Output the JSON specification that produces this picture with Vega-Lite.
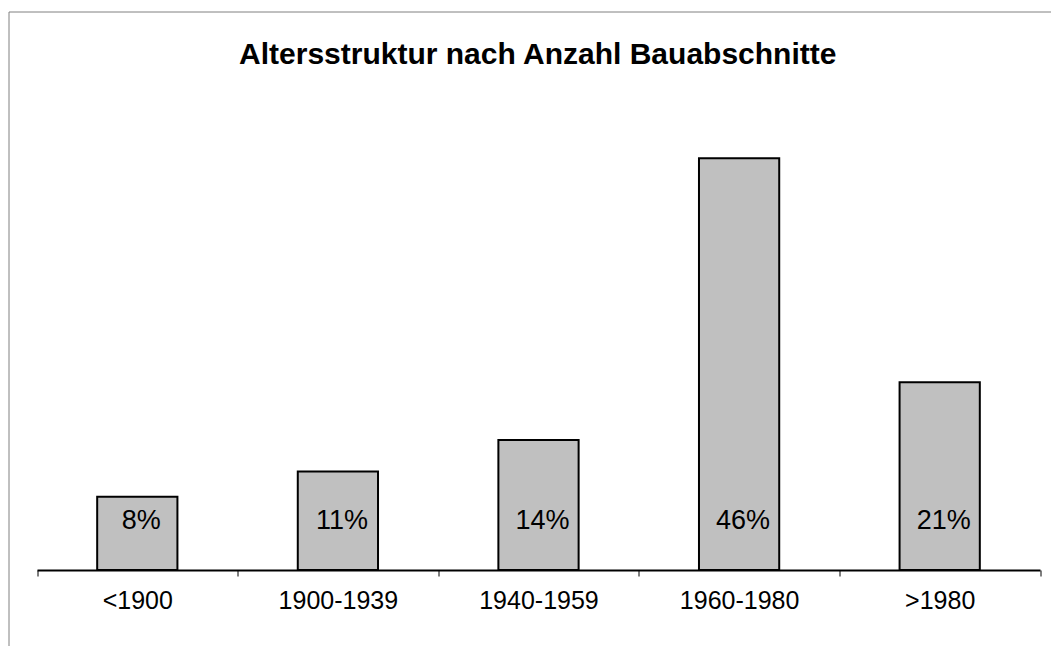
{
  "$schema": "https://vega.github.io/schema/vega-lite/v6.json",
  "autosize": "none",
  "padding": {"left": 8.5, "top": 11.5, "right": 0, "bottom": 0},
  "width": 1042.5,
  "height": 634.5,
  "background": "white",
  "config": {
    "view": {"stroke": "#808080", "strokeWidth": 1},
    "font": "Liberation Sans"
  },
  "title": {
    "text": "Altersstruktur nach Anzahl Bauabschnitte",
    "fontSize": 30,
    "font": "Liberation Sans",
    "fontWeight": "bold",
    "color": "#000000",
    "baseline": "alphabetic",
    "offset": -82.5,
    "dx": 8
  },
  "data": {
    "values": [
      {"period": "<1900", "share": 0.081},
      {"period": "1900-1939", "share": 0.109},
      {"period": "1940-1959", "share": 0.144},
      {"period": "1960-1980", "share": 0.456},
      {"period": ">1980", "share": 0.208}
    ]
  },
  "encoding": {
    "x": {
      "field": "period",
      "type": "nominal",
      "sort": null,
      "scale": {"range": [28.5, 1031.5], "paddingInner": 0, "paddingOuter": 0},
      "axis": {
        "title": null,
        "orient": "bottom",
        "offset": -76,
        "labelAngle": 0,
        "labelFont": "Liberation Sans",
        "labelFontSize": 25,
        "labelColor": "#000000",
        "labelPadding": 12,
        "domainColor": "#000000",
        "domainWidth": 2,
        "tickColor": "#000000",
        "tickWidth": 1,
        "tickSize": 6,
        "tickBand": "extent",
        "grid": false
      }
    }
  },
  "layer": [
    {
      "mark": {"type": "bar", "fill": "#C0C0C0", "stroke": "#000000", "strokeWidth": 2, "width": {"band": 0.4}},
      "encoding": {
        "y": {
          "field": "share",
          "type": "quantitative",
          "scale": {"domain": [0, 0.5], "range": [558.5, 107], "nice": false, "zero": true},
          "axis": null
        }
      }
    },
    {
      "mark": {"type": "text", "fontSize": 27, "font": "Liberation Sans", "color": "#000000", "baseline": "middle", "align": "center", "dx": 4, "dy": -49},
      "encoding": {
        "y": {"datum": 0},
        "text": {"field": "share", "type": "quantitative", "format": ".0%"}
      }
    }
  ]
}
